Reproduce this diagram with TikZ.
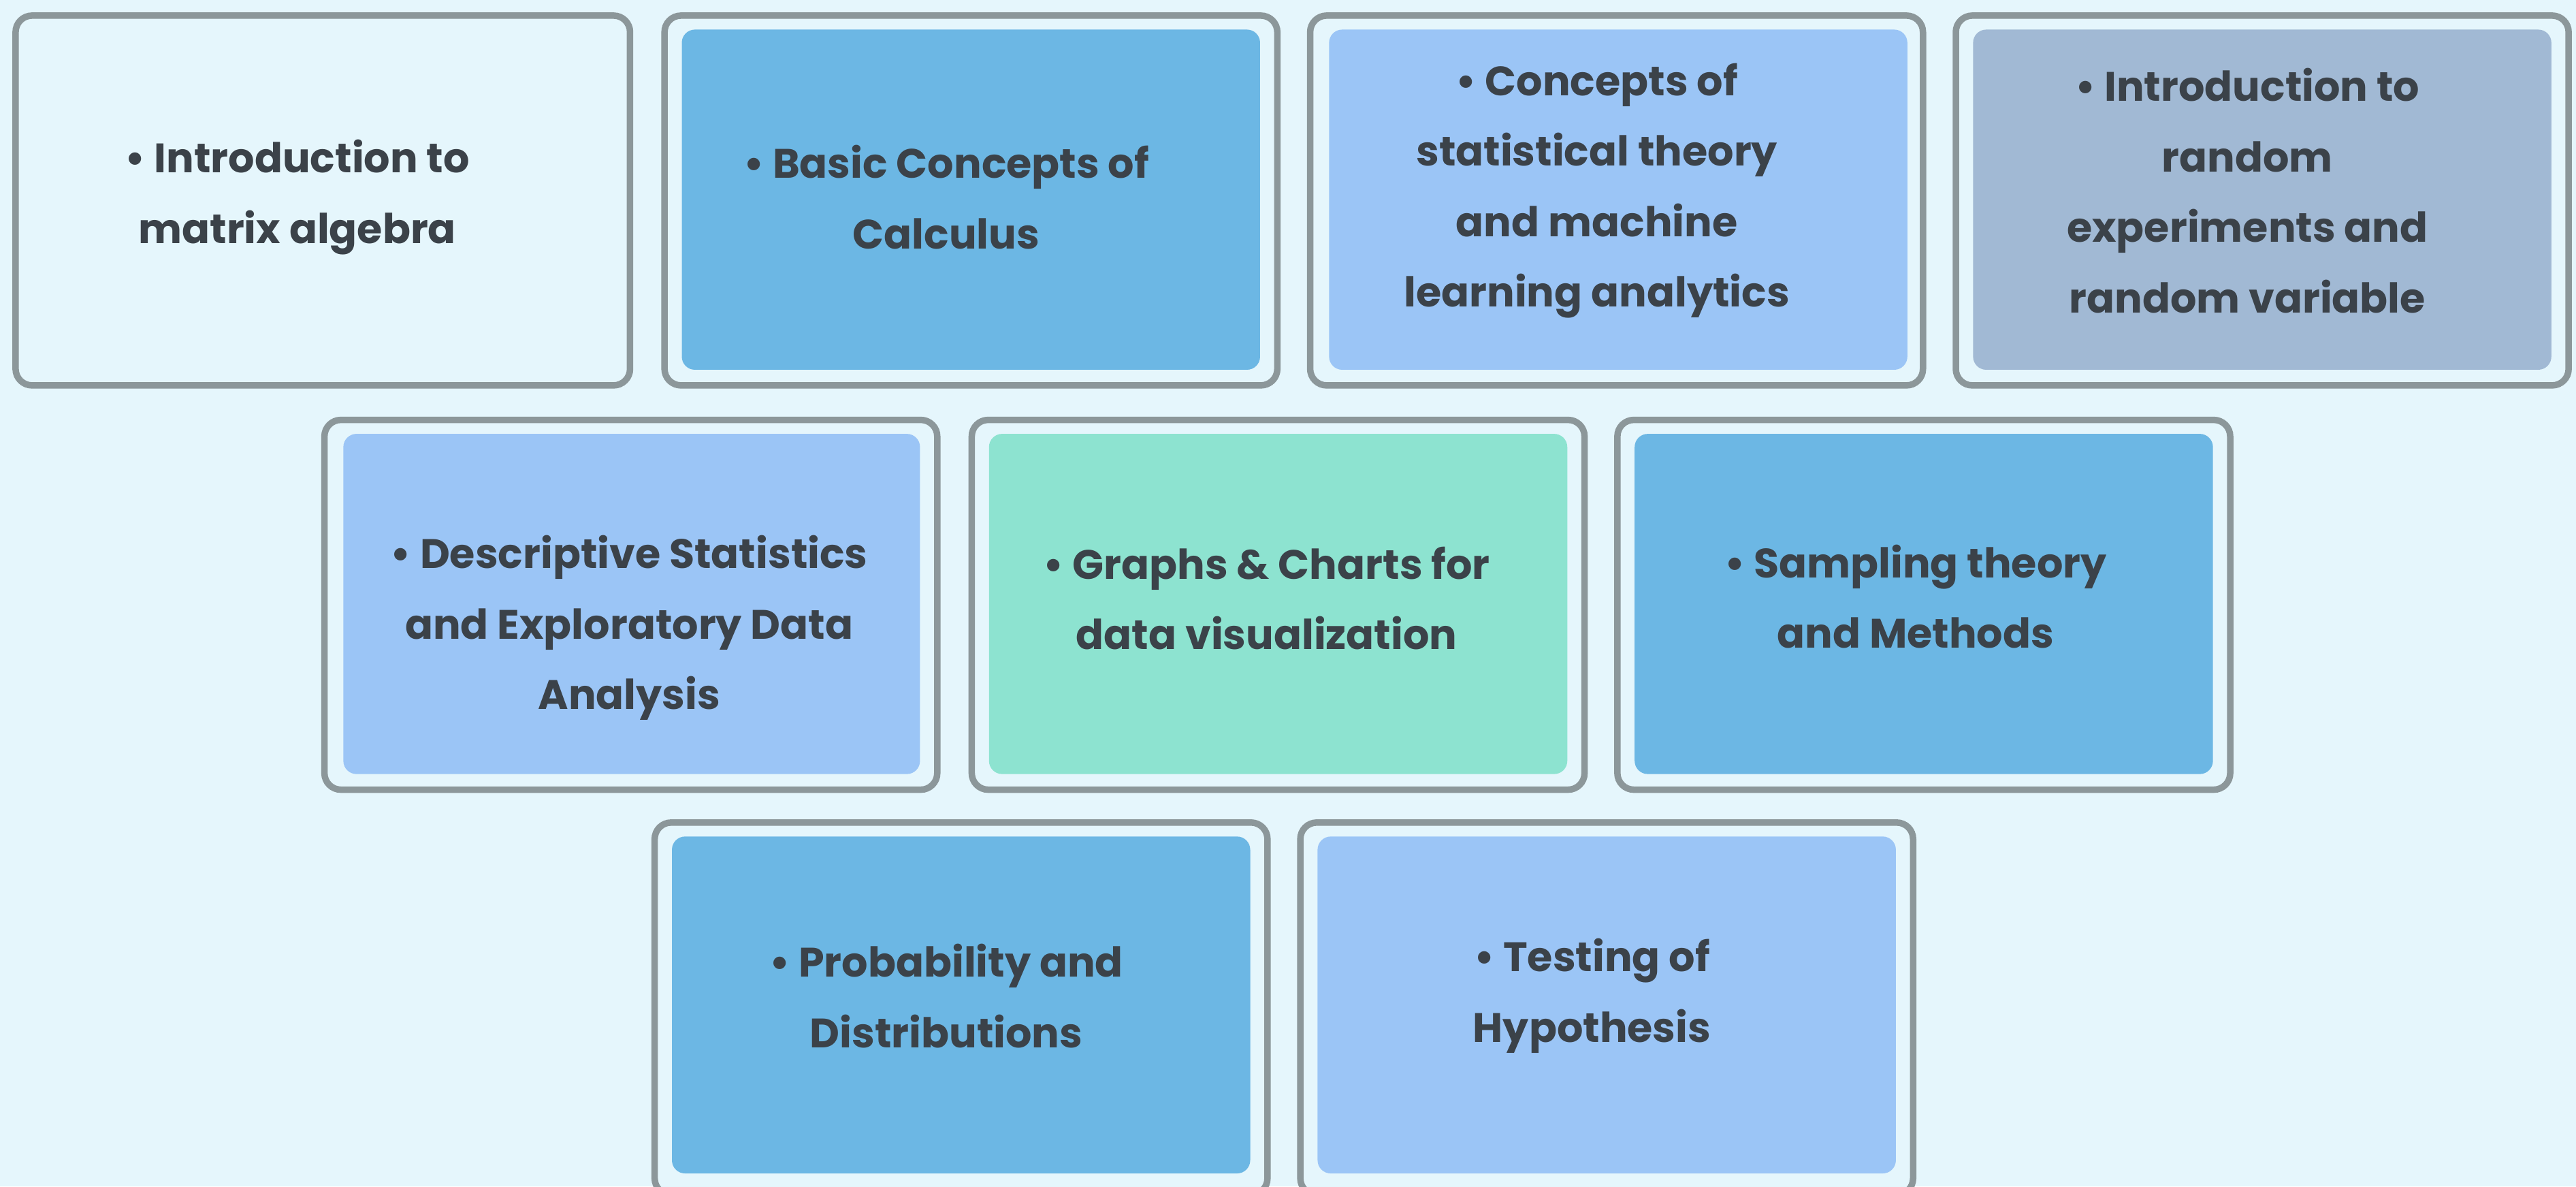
\documentclass[tikz,border=0pt]{standalone}
\usepackage{fontspec}
\setmainfont{Poppins}
\usepackage{xcolor}

\definecolor{bgcyan}{HTML}{E5F6FC}
\definecolor{boxgray}{HTML}{8C979A}
\definecolor{midblue}{HTML}{6CB7E4}
\definecolor{liteblue}{HTML}{9BC5F6}
\definecolor{slateblue}{HTML}{A1B9D4}
\definecolor{mint}{HTML}{8DE3D0}
\definecolor{txtgray}{HTML}{3B4249}

\begin{document}
\begin{tikzpicture}[x=0.025cm,y=-0.025cm,
    frame/.style={draw=boxgray, line width=2.8pt, rounded corners=0.25cm, fill=bgcyan},
    panel/.style={rounded corners=0.2cm},
    topic/.style={text=txtgray, font=\bfseries\fontsize{17.8}{30.5}\selectfont, align=center, inner sep=0pt}]
            \fill[bgcyan] (0,0) rectangle (1568,722);
            \clip (0,0) rectangle (1568,722);
            % first row
            \draw[frame] (9.5,9.5) rectangle (383.5,234.5);
            \node[topic] (matrix) at (181,120) {• Introduction to\\matrix algebra};
            \draw[frame] (404.5,9.5) rectangle (777.5,234.5);
            \fill[panel, midblue] (415,18) rectangle (767,225);
            \node[topic] (calculus) at (576,120) {• Basic Concepts of\\Calculus};
            \draw[frame] (797.5,9.5) rectangle (1170.5,234.5);
            \fill[panel, liteblue] (809,18) rectangle (1161,225);
            \node[topic] (stattheory) at (972,116) {• Concepts of\\statistical theory\\and machine\\learning analytics};
            \draw[frame] (1190.5,9.5) rectangle (1563.5,234.5);
            \fill[panel, slateblue] (1201,18) rectangle (1553,225);
            \node[topic] (randomexp) at (1368,116) {• Introduction to\\random\\experiments and\\random variable};
            % second row
            \draw[frame] (197.5,255.5) rectangle (570.5,480.5);
            \fill[panel, liteblue] (209,264) rectangle (560,471);
            \node[topic] (descstat) at (383,382) {• Descriptive Statistics\\and Exploratory Data\\Analysis};
            \draw[frame] (591.5,255.5) rectangle (964.5,480.5);
            \fill[panel, mint] (602,264) rectangle (954,471);
            \node[topic] (graphs) at (771,364) {• Graphs \& Charts for\\data visualization};
            \draw[frame] (984.5,255.5) rectangle (1357.5,480.5);
            \fill[panel, midblue] (995,264) rectangle (1347,471);
            \node[topic] (sampling) at (1166,363) {• Sampling theory\\and Methods};
            % third row, cut off at the bottom
            \draw[frame] (398.5,500.5) rectangle (771.5,727);
            \fill[panel, midblue] (409,509) rectangle (761,714);
            \node[topic] (probdist) at (576,606) {• Probability and\\Distributions};
            \draw[frame] (791.5,500.5) rectangle (1164.5,727);
            \fill[panel, liteblue] (802,509) rectangle (1154,714);
            \node[topic] (hypothesis) at (969,606) {• Testing of\\Hypothesis};
        \end{tikzpicture}
\end{document}
